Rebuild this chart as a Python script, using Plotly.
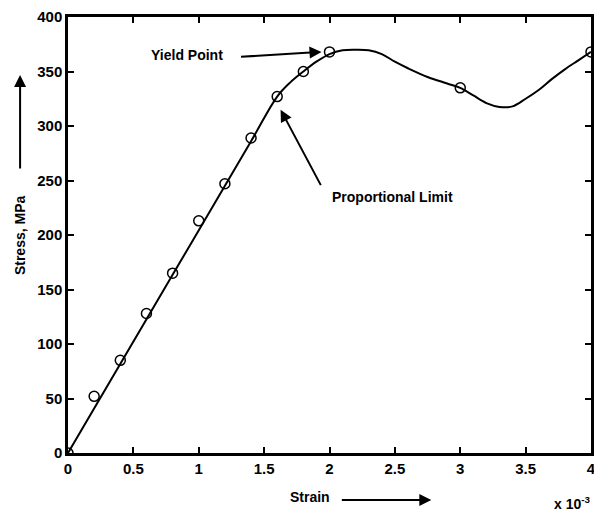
import plotly.graph_objects as go

# Measured data points (circles)
strain_pts = [0.0, 0.2, 0.4, 0.6, 0.8, 1.0, 1.2, 1.4, 1.6, 1.8, 2.0, 3.0, 4.0]
stress_pts = [0, 52, 85, 128, 165, 213, 247, 289, 327, 350, 368, 335, 368]

# Fitted curve
curve_strain = [0.0, 0.8, 1.4, 1.6, 1.7, 1.8, 1.9, 2.0, 2.1, 2.2, 2.3, 2.4, 2.5, 2.6, 2.75,
                2.9, 3.0, 3.1, 3.2, 3.3, 3.4, 3.5, 3.6, 3.7, 3.8, 3.9, 4.0]
curve_stress = [0, 163.5, 286, 327, 340, 350, 359, 366, 369.5, 370, 369.5, 366, 359, 353, 345,
                339, 335, 328, 321, 317.5, 318, 325, 333, 343, 352, 360, 368]

x_ticks = [0, 0.5, 1, 1.5, 2, 2.5, 3, 3.5, 4]
x_tick_labels = ["0", "0.5", "1", "1.5", "2", "2.5", "3", "3.5", "4"]
y_ticks = [0, 50, 100, 150, 200, 250, 300, 350, 400]
y_tick_labels = ["0", "50", "100", "150", "200", "250", "300", "350", "400"]

FONT = "Liberation Sans Narrow, Liberation Sans, Arial, sans-serif"

fig = go.Figure()
fig.add_trace(go.Scatter(x=curve_strain, y=curve_stress, mode="lines",
                         line=dict(color="black", width=2, shape="spline", smoothing=1.0),
                         showlegend=False))
fig.add_trace(go.Scatter(x=strain_pts, y=stress_pts, mode="markers",
                         marker=dict(symbol="circle-open", size=10, color="black",
                                     line=dict(width=1.5, color="black")),
                         showlegend=False))

axis_common = dict(showline=True, linecolor="black", linewidth=2.5, mirror="ticks",
                   ticks="inside", ticklen=6, tickwidth=2, tickcolor="black",
                   showgrid=False, zeroline=False, automargin=False,
                   ticklabeloverflow="allow",
                   tickfont=dict(family=FONT, size=15, color="black", weight="bold"))

fig.update_xaxes(range=[0, 4], tickvals=x_ticks, ticktext=x_tick_labels, **axis_common)
fig.update_yaxes(range=[0, 400], tickvals=y_ticks, ticktext=y_tick_labels, **axis_common)

bold = dict(family=FONT, size=14, color="black", weight="bold")
arrow = dict(arrowhead=2, arrowsize=1.2, arrowwidth=2, arrowcolor="black")
ctr = dict(xanchor="center", yanchor="middle")
ann = []
# Yield point
ann.append(dict(x=0.908, y=365, xref="x", yref="y", text="Yield Point",
                showarrow=False, font=bold, **ctr))
ann.append(dict(x=1.939, y=368, xref="x", yref="y", text="", showarrow=True,
                ax=-82, ay=5, **arrow))
# Proportional limit
ann.append(dict(x=2.48, y=235, xref="x", yref="y", text="Proportional Limit",
                showarrow=False, font=bold, **ctr))
ann.append(dict(x=1.626, y=315, xref="x", yref="y", text="", showarrow=True,
                ax=41, ay=77, **arrow))
# Y title with arrow (paper coordinates)
ann.append(dict(x=-0.0916, y=0.5, xref="paper", yref="paper", text="Stress, MPa",
                showarrow=False, textangle=-90, font=bold, **ctr))
ann.append(dict(x=-0.0916, y=0.867, xref="paper", yref="paper", text="", showarrow=True,
                ax=0, ay=95, **arrow))
# X title with arrow
ann.append(dict(x=0.4618, y=-0.1009, xref="paper", yref="paper", text="Strain",
                showarrow=False, font=bold, **ctr))
ann.append(dict(x=0.6947, y=-0.1078, xref="paper", yref="paper", text="", showarrow=True,
                ax=-91, ay=0, **arrow))
# Exponent
ann.append(dict(x=0.9637, y=-0.1147, xref="paper", yref="paper", text="x 10<sup>-3</sup>",
                showarrow=False, font=dict(family=FONT, size=14, color="black", weight="bold"),
                **ctr))

fig.update_layout(width=594, height=515,
                  margin=dict(l=68, r=3, t=17, b=62),
                  plot_bgcolor="white", paper_bgcolor="white",
                  annotations=ann)

# remove the default 8px page margin so the figure fills the window exactly
fig.write_html("out.html", config={"displayModeBar": False},
               post_script="document.body.style.margin='0';document.body.style.overflow='hidden';")
